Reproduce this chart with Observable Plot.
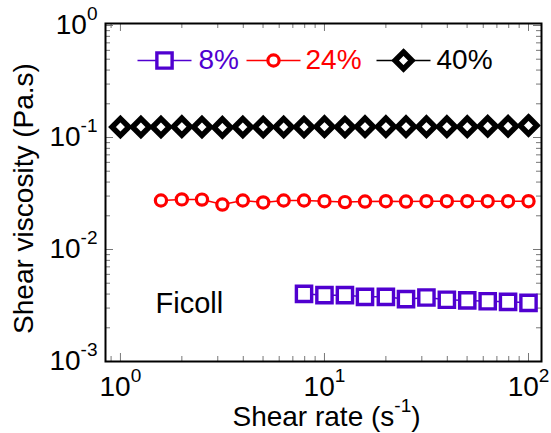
<!DOCTYPE html>
<html><head><meta charset="utf-8">
<script src="https://cdn.jsdelivr.net/npm/d3@7"></script>
<script src="https://cdn.jsdelivr.net/npm/@observablehq/plot@0.6"></script>
<style>body{margin:0;background:#fff} #chart svg{display:block}</style>
</head><body><div id="chart"></div>
<script>
// ---- data ----
const rate8  = [7.94, 10, 12.6, 15.8, 20, 25.1, 31.6, 39.8, 50.1, 63.1, 79.4, 100];
const visc8  = [0.00402, 0.00391, 0.00391, 0.00378, 0.00378, 0.00360, 0.00373, 0.00356, 0.00351, 0.00345, 0.00341, 0.00334];
const rate24 = [1.58, 2, 2.51, 3.16, 3.98, 5.01, 6.31, 7.94, 10, 12.6, 15.8, 20, 25.1, 31.6, 39.8, 50.1, 63.1, 79.4, 100];
const visc24 = [0.0274, 0.0280, 0.0279, 0.0252, 0.0274, 0.0263, 0.0274, 0.0274, 0.0270, 0.0265, 0.0268, 0.0270, 0.0268, 0.0270, 0.0270, 0.0270, 0.0270, 0.0270, 0.0270];
const rate40 = [1, 1.26, 1.58, 2, 2.51, 3.16, 3.98, 5.01, 6.31, 7.94, 10, 12.6, 15.8, 20, 25.1, 31.6, 39.8, 50.1, 63.1, 79.4, 100];
const visc40 = [0.124, 0.124, 0.124, 0.125, 0.124, 0.123, 0.124, 0.124, 0.124, 0.124, 0.125, 0.124, 0.125, 0.125, 0.125, 0.125, 0.125, 0.125, 0.126, 0.126, 0.128];

const seriesNames   = ["8%", "24%", "40%"];
const seriesColors  = ["#5000d0", "#ff0000", "#000000"];
const seriesSymbols = ["square", "circle", "diamond2"];

const xMajor = [1, 10, 100];
const xMinor = [0.9, 2, 3, 4, 5, 6, 7, 8, 9, 20, 30, 40, 50, 60, 70, 80, 90];
const yMajor = [0.001, 0.01, 0.1, 1];
const yMinor = [0.002, 0.003, 0.004, 0.005, 0.006, 0.007, 0.008, 0.009,
                0.02, 0.03, 0.04, 0.05, 0.06, 0.07, 0.08, 0.09,
                0.2, 0.3, 0.4, 0.5, 0.6, 0.7, 0.8, 0.9];
const xTitle = "Shear rate (s^{-1})";
const yTitle = "Shear viscosity (Pa.s)";
const note = "Ficoll";

// ---- build ----
const W = 551, H = 433;
const M = {top: 23, right: 10, bottom: 72, left: 105};
const FW = W - M.left - M.right, FH = H - M.top - M.bottom;

const rows = [];
[[rate8, visc8], [rate24, visc24], [rate40, visc40]].forEach(([xs, ys], i) =>
  xs.forEach((x, j) => rows.push({series: seriesNames[i], rate: x, visc: ys[j]})));

const styleOf = {
  "8%":  {r: 8.6, sw: 3.4},
  "24%": {r: 5.6, sw: 3.2},
  "40%": {r: 7.6, sw: 5.5}
};

const expFmt = d => "10^{" + Math.round(Math.log10(d)) + "}";
const tickColor = "#777";

const marks = [];
// inward ticks on four sides
marks.push(
  Plot.tickX(xMajor, {x: d => d, insetTop: FH - 8, stroke: tickColor}),
  Plot.tickX(xMinor, {x: d => d, insetTop: FH - 5, stroke: tickColor}),
  Plot.tickX(xMajor, {x: d => d, insetBottom: FH - 8, stroke: tickColor}),
  Plot.tickX(xMinor, {x: d => d, insetBottom: FH - 5, stroke: tickColor}),
  Plot.tickY(yMajor, {y: d => d, insetRight: FW - 8, stroke: tickColor}),
  Plot.tickY(yMinor, {y: d => d, insetRight: FW - 5, stroke: tickColor}),
  Plot.tickY(yMajor, {y: d => d, insetLeft: FW - 8, stroke: tickColor}),
  Plot.tickY(yMinor, {y: d => d, insetLeft: FW - 5, stroke: tickColor})
);
marks.push(Plot.frame({stroke: "black", strokeWidth: 2}));
marks.push(
  Plot.axisX({ticks: xMajor, tickSize: 0, tickPadding: 15, tickFormat: expFmt, fontSize: 28, label: null}),
  Plot.axisY({ticks: yMajor, tickSize: 0, tickPadding: 8, tickFormat: expFmt, fontSize: 28, label: null})
);
// series
seriesNames.forEach((name, i) => {
  const data = rows.filter(d => d.series === name);
  marks.push(Plot.line(data, {x: "rate", y: "visc", stroke: seriesColors[i], strokeWidth: 1.5}));
  marks.push(Plot.dot(data, {x: "rate", y: "visc", symbol: seriesSymbols[i], r: styleOf[name].r,
    stroke: seriesColors[i], strokeWidth: styleOf[name].sw, fill: "white"}));
});
// legend inside the frame
const lineSymbol = {draw(ctx) { ctx.moveTo(-27, 0); ctx.lineTo(27, 0); }};
const legCx = [59, 168, 298], legTx = [93, 200, 331], legDy = 37;
seriesNames.forEach((name, i) => {
  marks.push(
    Plot.dot([name], {frameAnchor: "top-left", dx: legCx[i], dy: legDy, symbol: lineSymbol, r: 5,
      stroke: seriesColors[i], strokeWidth: 1.5, fill: "none"}),
    Plot.dot([name], {frameAnchor: "top-left", dx: legCx[i], dy: legDy, symbol: seriesSymbols[i], r: styleOf[name].r,
      stroke: seriesColors[i], strokeWidth: styleOf[name].sw, fill: "white"}),
    Plot.text([name], {frameAnchor: "top-left", dx: legTx[i], dy: legDy, textAnchor: "start", lineAnchor: "middle",
      fill: seriesColors[i], fontSize: 28})
  );
});
// annotation and titles
marks.push(
  Plot.text([note], {frameAnchor: "bottom-left", dx: 50, dy: -58, textAnchor: "start", lineAnchor: "middle", fontSize: 29}),
  Plot.text([xTitle], {frameAnchor: "bottom", dx: 3, dy: 56, textAnchor: "middle", lineAnchor: "middle", fontSize: 28}),
  Plot.text([yTitle], {frameAnchor: "left", dx: -81, dy: 6, rotate: -90, textAnchor: "middle", lineAnchor: "middle", fontSize: 28})
);

const chart = Plot.plot({
  width: W, height: H,
  marginTop: M.top, marginRight: M.right, marginBottom: M.bottom, marginLeft: M.left,
  x: {type: "log", domain: [0.845, 115.8]},
  y: {type: "log", domain: [0.001, 1.042]},
  style: {fontFamily: "'Liberation Sans', Arial, sans-serif", background: "white", color: "black", overflow: "visible"},
  marks
});
document.getElementById("chart").append(chart);

// superscripts: turn "a^{b}c" into tspans
const NS = "http://www.w3.org/2000/svg";
chart.querySelectorAll("text").forEach(el => {
  const s = el.textContent;
  const m = s.match(/^(.*?)\^\{(.*?)\}(.*)$/);
  if (!m) return;
  const holder = el.getAttribute("font-size") ? el : el.closest("[font-size]");
  const fs = parseFloat(holder ? holder.getAttribute("font-size") : "28");
  const rise = fs * 0.52;
  el.textContent = "";
  const t1 = document.createElementNS(NS, "tspan"); t1.textContent = m[1];
  const t2 = document.createElementNS(NS, "tspan"); t2.textContent = m[2];
  t2.setAttribute("font-size", fs * 0.68); t2.setAttribute("dy", -rise);
  el.append(t1, t2);
  if (m[3]) {
    const t3 = document.createElementNS(NS, "tspan"); t3.textContent = m[3];
    t3.setAttribute("dy", rise);
    el.append(t3);
  }
});
</script></body></html>
